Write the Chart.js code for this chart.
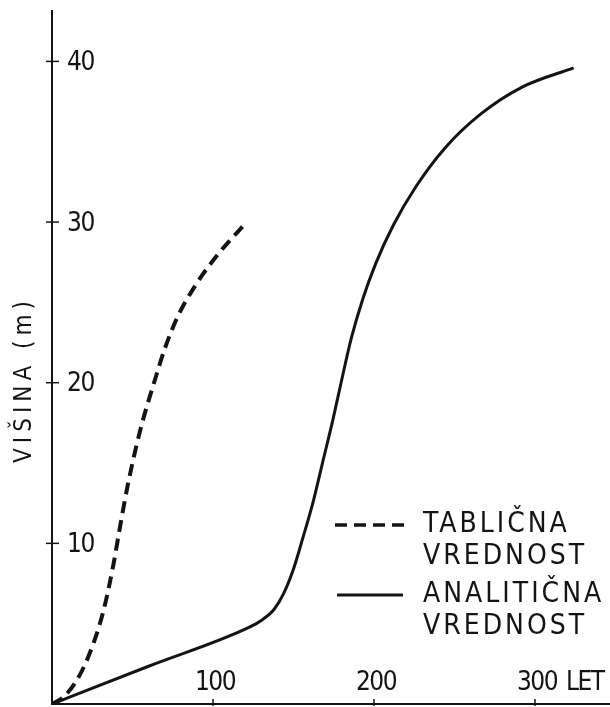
<!DOCTYPE html>
<html>
<head>
<meta charset="utf-8">
<script src="https://cdn.jsdelivr.net/npm/chart.js@4.4.0/dist/chart.umd.min.js"></script>
<style>
  html, body { margin: 0; padding: 0; background: #fff; }
  #wrap { width: 610px; height: 707px; }
</style>
</head>
<body>
<div id="wrap"><canvas id="grafikon"></canvas></div>
<script>
// tablicna vrednost (crtkano)
const tabLeta = [0, 6.8, 15.5, 23.6, 31.7, 38, 42.2, 47, 54.7, 64, 70, 78, 90, 104, 120];
const tabVisina = [0, 0.4, 1.5, 3.2, 5.7, 8.6, 11, 13.6, 17, 20.2, 22.1, 24.1, 26.2, 28.1, 29.9];

// analiticna vrednost (polna crta)
const anaLeta = [0, 60, 123, 130, 138, 144, 150, 156, 162, 168, 174.5, 180, 186, 193, 201, 212, 226, 244, 266, 292, 324];
const anaVisina = [0, 2.35, 4.8, 5.2, 5.9, 6.9, 8.4, 10.4, 12.5, 15, 17.7, 20.2, 22.8, 25.2, 27.4, 29.8, 32.2, 34.6, 36.7, 38.4, 39.6];

const yTicks = [10, 20, 30, 40];
const xTicks = [100, 200, 300];
const xEnota = 'LET';
const yNaslov = 'VIŠINA (m)';
const legenda = [
    { vrstice: ['TABLIČNA', 'VREDNOST'], crtkano: true },
    { vrstice: ['ANALITIČNA', 'VREDNOST'], crtkano: false }
];

const pisava = '"DejaVu Sans Condensed", "DejaVu Sans", sans-serif';
const barva = '#141414';

function tocke(xs, ys) {
    return xs.map((x, i) => ({ x: x, y: ys[i] }));
}

// osi, oznake in legenda
const osiPlugin = {
    id: 'osi',
    afterDraw(chart) {
        const ctx = chart.ctx;
        const xs = chart.scales.x;
        const ys = chart.scales.y;
        const x0 = xs.getPixelForValue(0);
        const y0 = ys.getPixelForValue(0);
        ctx.save();
        ctx.strokeStyle = barva;
        ctx.fillStyle = barva;
        ctx.lineWidth = 2;

        // os y in os x
        ctx.beginPath();
        ctx.moveTo(x0, ys.top);
        ctx.lineTo(x0, y0);
        ctx.lineTo(xs.right, y0);
        ctx.stroke();

        ctx.font = '26px ' + pisava;
        ctx.letterSpacing = '-1.5px';
        ctx.lineWidth = 1.5;
        yTicks.forEach(v => {
            const py = ys.getPixelForValue(v);
            ctx.beginPath();
            ctx.moveTo(x0 - 6, py);
            ctx.lineTo(x0 + 7, py);
            ctx.stroke();
            ctx.textAlign = 'left';
            ctx.textBaseline = 'middle';
            ctx.fillText(String(v), x0 + 15, py + 2);
        });

        xTicks.forEach(v => {
            const px = xs.getPixelForValue(v);
            ctx.beginPath();
            ctx.moveTo(px, y0 - 5);
            ctx.lineTo(px, y0 + 2);
            ctx.stroke();
            ctx.textAlign = 'center';
            ctx.textBaseline = 'alphabetic';
            ctx.fillText(String(v), px + 2, y0 - 14);
        });
        const zadnji = xs.getPixelForValue(xTicks[xTicks.length - 1]);
        ctx.textAlign = 'left';
        ctx.fillText(xEnota, zadnji + 31, y0 - 14);

        // naslov osi y
        ctx.save();
        ctx.translate(25, ys.getPixelForValue(20.2));
        ctx.rotate(-Math.PI / 2);
        ctx.font = '24px ' + pisava;
        ctx.letterSpacing = '5px';
        ctx.textAlign = 'center';
        ctx.textBaseline = 'middle';
        ctx.fillText(yNaslov, 0, 0);
        ctx.restore();

        // legenda
        ctx.font = '28px ' + pisava;
        ctx.letterSpacing = '3px';
        ctx.textAlign = 'left';
        ctx.textBaseline = 'middle';
        let ly = 525;
        legenda.forEach(l => {
            ctx.beginPath();
            ctx.lineWidth = l.crtkano ? 3.5 : 3;
            ctx.setLineDash(l.crtkano ? [12, 7] : []);
            ctx.moveTo(l.crtkano ? 335 : 337, ly);
            ctx.lineTo(l.crtkano ? 408 : 403, ly);
            ctx.stroke();
            ctx.setLineDash([]);
            l.vrstice.forEach((t, i) => {
                ctx.fillText(t, 423, ly + i * 32);
            });
            ly += 70;
        });
        ctx.restore();
    }
};

const ctx = document.getElementById('grafikon').getContext('2d');
new Chart(ctx, {
    type: 'scatter',
    data: {
        datasets: [
            {
                label: 'TABLIČNA VREDNOST',
                data: tocke(tabLeta, tabVisina),
                showLine: true,
                borderColor: barva,
                borderWidth: 4,
                borderDash: [12, 7],
                pointRadius: 0,
                cubicInterpolationMode: 'monotone'
            },
            {
                label: 'ANALITIČNA VREDNOST',
                data: tocke(anaLeta, anaVisina),
                showLine: true,
                borderColor: barva,
                borderWidth: 3,
                pointRadius: 0,
                cubicInterpolationMode: 'monotone'
            }
        ]
    },
    options: {
        responsive: true,
        maintainAspectRatio: false,
        animation: false,
        layout: { padding: { left: 52, right: 0, top: 10, bottom: 3 } },
        scales: {
            x: { type: 'linear', min: 0, max: 346.6, display: false },
            y: { type: 'linear', min: 0, max: 43.2, display: false }
        },
        plugins: {
            legend: { display: false },
            tooltip: { enabled: false }
        }
    },
    plugins: [osiPlugin]
});
</script>
</body>
</html>
